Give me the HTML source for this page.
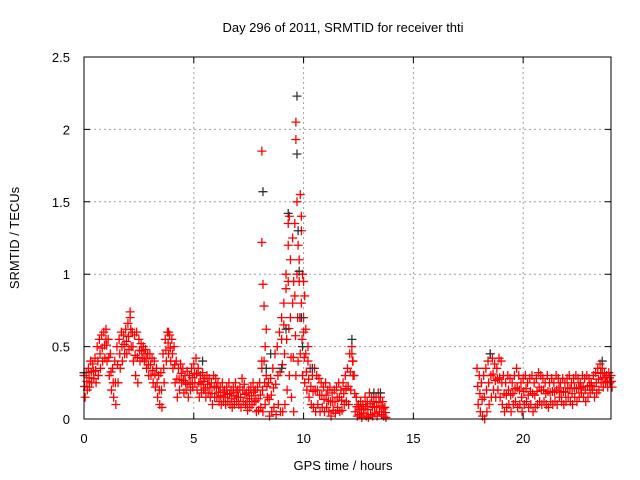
<!DOCTYPE html>
<html><head><meta charset="utf-8"><style>
html,body{margin:0;padding:0;background:#fff}
svg{display:block;font-family:"Liberation Sans",sans-serif;font-size:13px}
</style></head><body>
<svg id="chart" width="640" height="480">
<text x="343" y="32" text-anchor="middle">Day 296 of 2011, SRMTID for receiver thti</text>
<text x="343" y="470" text-anchor="middle">GPS time / hours</text>
<text transform="translate(19,238) rotate(-90)" text-anchor="middle">SRMTID / TECUs</text>
<g id="grid"></g><g id="marks"></g><g id="axes"></g>
<rect x="84" y="57" width="527" height="362" fill="none" stroke="#000" stroke-width="1"/>
</svg>
<script>
const xTicks=[0,5,10,15,20];
const yTicks=[0,0.5,1,1.5,2,2.5];
const yTickLabels=["0","0.5","1","1.5","2","2.5"];
const seg1Start=0.0, seg2Start=17.9, step=0.1;
const seg1Hi=[0.30,0.32,0.35,0.40,0.38,0.42,0.50,0.55,0.58,0.60,0.62,0.55,0.45,0.35,0.40,0.50,0.55,0.60,0.58,0.62,0.66,0.74,0.60,0.58,0.60,0.55,0.52,0.50,0.48,0.45,0.45,0.42,0.40,0.35,0.30,0.32,0.45,0.55,0.60,0.58,0.55,0.50,0.40,0.35,0.38,0.35,0.30,0.33,0.30,0.35,0.38,0.42,0.35,0.30,0.32,0.28,0.30,0.28,0.25,0.30,0.28,0.25,0.22,0.25,0.20,0.22,0.25,0.20,0.22,0.25,0.20,0.22,0.28,0.24,0.18,0.20,0.22,0.25,0.20,0.22,0.25,0.35,0.40,0.30,0.25,0.28,0.35,0.45,0.50,0.60,0.70,0.80,0.90,0.95,0.70,0.80,0.85,1.00,0.95,0.80,0.60,0.45,0.40,0.35,0.30,0.35,0.30,0.28,0.25,0.22,0.25,0.20,0.22,0.18,0.20,0.22,0.25,0.20,0.25,0.30,0.35,0.45,0.50,0.30,0.15,0.10,0.12,0.10,0.15,0.12,0.18,0.15,0.12,0.15,0.18,0.15,0.12,0.08];
const seg1Lo=[0.15,0.20,0.22,0.25,0.28,0.25,0.30,0.35,0.40,0.42,0.40,0.30,0.20,0.15,0.10,0.25,0.35,0.40,0.45,0.45,0.48,0.50,0.40,0.30,0.25,0.40,0.42,0.40,0.35,0.30,0.30,0.25,0.22,0.15,0.10,0.08,0.25,0.40,0.45,0.40,0.35,0.25,0.15,0.20,0.25,0.18,0.20,0.15,0.20,0.22,0.25,0.20,0.15,0.18,0.20,0.15,0.18,0.15,0.10,0.15,0.15,0.12,0.10,0.12,0.10,0.12,0.10,0.08,0.10,0.12,0.10,0.08,0.12,0.10,0.06,0.08,0.10,0.12,0.05,0.06,0.08,0.05,0.10,0.15,0.02,0.05,0.08,0.03,0.10,0.05,0.05,0.10,0.20,0.30,0.15,0.05,0.30,0.40,0.45,0.30,0.25,0.20,0.15,0.10,0.08,0.05,0.10,0.05,0.08,0.05,0.08,0.05,0.02,0.06,0.04,0.08,0.05,0.06,0.10,0.12,0.10,0.20,0.30,0.05,0.02,0.03,0.01,0.04,0.02,0.01,0.03,0.02,0.04,0.02,0.05,0.03,0.02,0.01];
const seg2Hi=[0.35,0.30,0.25,0.30,0.35,0.40,0.45,0.42,0.38,0.35,0.42,0.40,0.30,0.25,0.30,0.28,0.25,0.30,0.35,0.30,0.25,0.28,0.30,0.25,0.28,0.30,0.25,0.28,0.32,0.30,0.28,0.25,0.30,0.25,0.28,0.25,0.30,0.28,0.25,0.28,0.25,0.28,0.30,0.25,0.28,0.30,0.28,0.25,0.30,0.28,0.30,0.28,0.25,0.30,0.32,0.35,0.38,0.35,0.32,0.30,0.32,0.30];
const seg2Lo=[0.10,0.05,0.02,0.00,0.05,0.10,0.15,0.20,0.15,0.20,0.15,0.10,0.05,0.08,0.10,0.05,0.10,0.12,0.08,0.10,0.05,0.10,0.12,0.08,0.10,0.05,0.08,0.10,0.12,0.10,0.12,0.10,0.08,0.12,0.10,0.12,0.10,0.15,0.12,0.10,0.12,0.15,0.12,0.10,0.15,0.12,0.15,0.18,0.15,0.12,0.15,0.18,0.20,0.15,0.18,0.20,0.25,0.22,0.25,0.22,0.25,0.22];
const extraRedT=[8.1,8.1,8.15,8.2,8.3,8.25,8.1,9.2,9.3,9.3,9.35,9.4,9.5,9.55,9.6,9.65,9.65,9.7,9.75,9.8,9.85,9.9,9.9,9.95,10.0,10.05,10.0,10.1,9.1,9.0,10.2,12.2,12.25,1.0,2.1,3.85];
const extraRedV=[1.85,1.22,0.93,0.78,0.62,0.5,0.4,1.0,1.2,1.35,1.4,1.1,1.25,0.95,1.35,2.05,1.93,1.5,1.2,1.1,1.55,1.4,1.3,1.0,0.95,0.85,0.7,0.62,0.65,0.55,0.5,0.45,0.4,0.55,0.7,0.6];
const blackT=[0.0,5.4,8.15,8.3,8.5,9.3,9.7,9.7,9.75,9.8,9.9,9.95,10.4,12.2,13.2,13.5,23.6,18.5,9.0,9.2];
const blackV=[0.32,0.4,1.57,0.35,0.45,1.42,2.23,1.83,1.3,1.02,0.7,0.5,0.35,0.55,0.18,0.18,0.4,0.45,0.35,0.62];

const NS="http://www.w3.org/2000/svg";
const X0=84,X1=611,Y0=419,Y1=57;
function xs(t){return X0+(t/24)*(X1-X0);}
function ys(v){return Y0-(v/2.5)*(Y0-Y1);}
const grid=document.getElementById('grid'),marks=document.getElementById('marks'),axes=document.getElementById('axes');
function mk(tag,attrs,parent){const e=document.createElementNS(NS,tag);for(const k in attrs)e.setAttribute(k,attrs[k]);parent.appendChild(e);return e;}
xTicks.forEach(t=>{
  const x=xs(t);
  if(t>0){const g=mk('line',{x1:x,y1:Y0,x2:x,y2:Y1,stroke:'#a0a0a0','stroke-dasharray':'2,3'},grid);
  
  }
  const tk=mk('path',{d:`M${x},${Y0}v-6M${x},${Y1}v6`,stroke:'#000'},axes);
  
  
  const l=mk('text',{x:x,y:443,'text-anchor':'middle'},axes);l.textContent=t;
  
  
});
yTicks.forEach((v,i)=>{
  const y=ys(v);
  if(v>0&&v<2.5){const g=mk('line',{x1:X0,y1:y,x2:X1,y2:y,stroke:'#a0a0a0','stroke-dasharray':'2,3'},grid);
  
  }
  const tk=mk('path',{d:`M${X0},${y}h6M${X1},${y}h-6`,stroke:'#000'},axes);
  
  
  const l=mk('text',{x:70,y:y+5,'text-anchor':'end'},axes);l.textContent=yTickLabels[i];
  
  
});
function cross(t,v,color){
  const x=xs(t),y=ys(v);
  const p=mk('path',{d:`M${x-4.5},${y}h9M${x},${y-4.5}v9`,stroke:color,'stroke-width':1.3},marks);
  
  
}
seg1Hi.forEach((v,i)=>cross(seg1Start+i*step,v,'#ff0000'));
seg1Lo.forEach((v,i)=>cross(seg1Start+i*step+0.05,v,'#ff0000'));
seg1Hi.forEach((v,i)=>cross(seg1Start+i*step+0.03,(v+seg1Lo[i])/2,'#ff0000'));
seg2Hi.forEach((v,i)=>cross(seg2Start+i*step,v,'#ff0000'));
seg2Lo.forEach((v,i)=>cross(seg2Start+i*step+0.05,v,'#ff0000'));
seg2Hi.forEach((v,i)=>cross(seg2Start+i*step+0.03,(v+seg2Lo[i])/2,'#ff0000'));
extraRedT.forEach((t,i)=>cross(t,extraRedV[i],'#ff0000'));
blackT.forEach((t,i)=>cross(t,blackV[i],'#333'));
</script>
</body></html>
